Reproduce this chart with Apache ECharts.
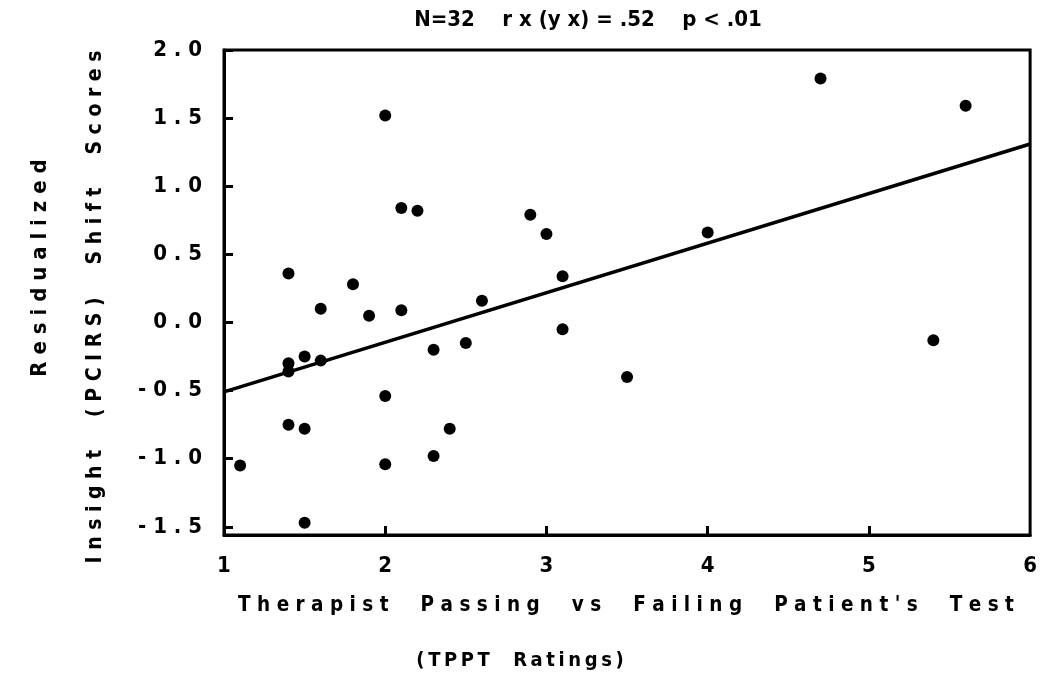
<!DOCTYPE html>
<html><head><meta charset="utf-8">
<script src="https://cdn.jsdelivr.net/npm/echarts@6/dist/echarts.min.js"></script>
<style>html,body{margin:0;padding:0;background:#fff}#c{width:1040px;height:680px}</style>
</head><body><div id="c"></div>
<script>
// TPPT ratings (x) and residualized insight shift scores (y)
const tpptRatings = [1.1,1.4,1.4,1.4,1.4,1.5,1.5,1.5,1.6,1.6,1.8,1.9,2.0,2.0,2.0,2.1,2.1,2.2,2.3,2.3,2.4,2.5,2.6,2.9,3.0,3.1,3.1,3.5,4.0,4.7,5.4,5.6];
const shiftScores = [-1.05,0.36,-0.30,-0.36,-0.75,-0.25,-0.78,-1.47,0.10,-0.28,0.28,0.05,1.52,-0.54,-1.04,0.84,0.09,0.82,-0.20,-0.98,-0.78,-0.15,0.16,0.79,0.65,0.34,-0.05,-0.40,0.66,1.79,-0.13,1.59];
// regression line endpoints
const fitX = [1, 6];
const fitY = [-0.51, 1.31];
const xTicks = [1,2,3,4,5,6];
const yTicks = [-1.5,-1.0,-0.5,0.0,0.5,1.0,1.5,2.0];
const titleText = 'N=32    r x (y x) = .52    p < .01';
const yTitle1 = 'Residualized';
const yTitle2 = 'Insight  (PCIRS)  Shift  Scores';
const xTitle1 = "Therapist  Passing  vs  Failing  Patient's  Test";
const xTitle2 = '(TPPT  Ratings)';

const FONT = "'DejaVu Sans Condensed','Liberation Sans Narrow','DejaVu Sans',sans-serif";
const spaced = s => s.split('').join(' ');
const thin = s => s.split('').join('\u2009');

const pts = tpptRatings.map((x,i)=>[x, shiftScores[i]]);
const fit = fitX.map((x,i)=>[x, fitY[i]]);

const chart = echarts.init(document.getElementById('c'), null, {renderer:'canvas'});
chart.setOption({
  backgroundColor:'#fff',
  animation:false,
  grid:{left:224, right:7, top:50, height:485, show:true, borderColor:'#000', borderWidth:3, backgroundColor:'transparent'},
  xAxis:{
    type:'value', min:1, max:6,
    splitLine:{show:false},
    axisLine:{show:true, onZero:false, lineStyle:{color:'#000', width:3}},
    axisTick:{show:true, inside:true, length:9, lineStyle:{color:'#000', width:3}, customValues:xTicks.slice(1,-1)},
    axisLabel:{color:'#000', fontFamily:FONT, fontWeight:'bold', fontSize:22, margin:20, customValues:xTicks, formatter:v=>String(v)}
  },
  yAxis:{
    type:'value', min:-1.56, max:2.0,
    splitLine:{show:false},
    axisLine:{show:true, onZero:false, lineStyle:{color:'#000', width:3}},
    axisTick:{show:true, inside:true, length:9, lineStyle:{color:'#000', width:3}, customValues:yTicks},
    axisLabel:{color:'#000', fontFamily:FONT, fontWeight:'bold', fontSize:22, margin:22, customValues:yTicks, formatter:v=>spaced(Number(v).toFixed(1))}
  },
  series:[
    {type:'line', data:fit, showSymbol:false, symbol:'none', lineStyle:{color:'#000', width:3.5}, silent:true, z:2},
    {type:'scatter', data:pts, symbol:'circle', symbolSize:12, itemStyle:{color:'#000', opacity:1}, z:3}
  ],
  graphic:[
    {type:'text', x:588, y:20, style:{text:titleText, font:"bold 22px "+FONT, fill:'#000', align:'center', verticalAlign:'middle'}},
    {type:'text', x:40, y:268, rotation:Math.PI/2, style:{text:spaced(yTitle1), font:"bold 22px "+FONT, fill:'#000', align:'center', verticalAlign:'middle'}},
    {type:'text', x:96, y:307, rotation:Math.PI/2, style:{text:spaced(yTitle2), font:"bold 21px "+FONT, fill:'#000', align:'center', verticalAlign:'middle'}},
    {type:'text', x:626, y:606, style:{text:spaced(xTitle1), font:"bold 20.5px "+FONT, fill:'#000', align:'center', verticalAlign:'middle'}},
    {type:'text', x:520, y:661, style:{text:thin(xTitle2), font:"bold 20px "+FONT, fill:'#000', align:'center', verticalAlign:'middle'}}
  ]
});
</script></body></html>
